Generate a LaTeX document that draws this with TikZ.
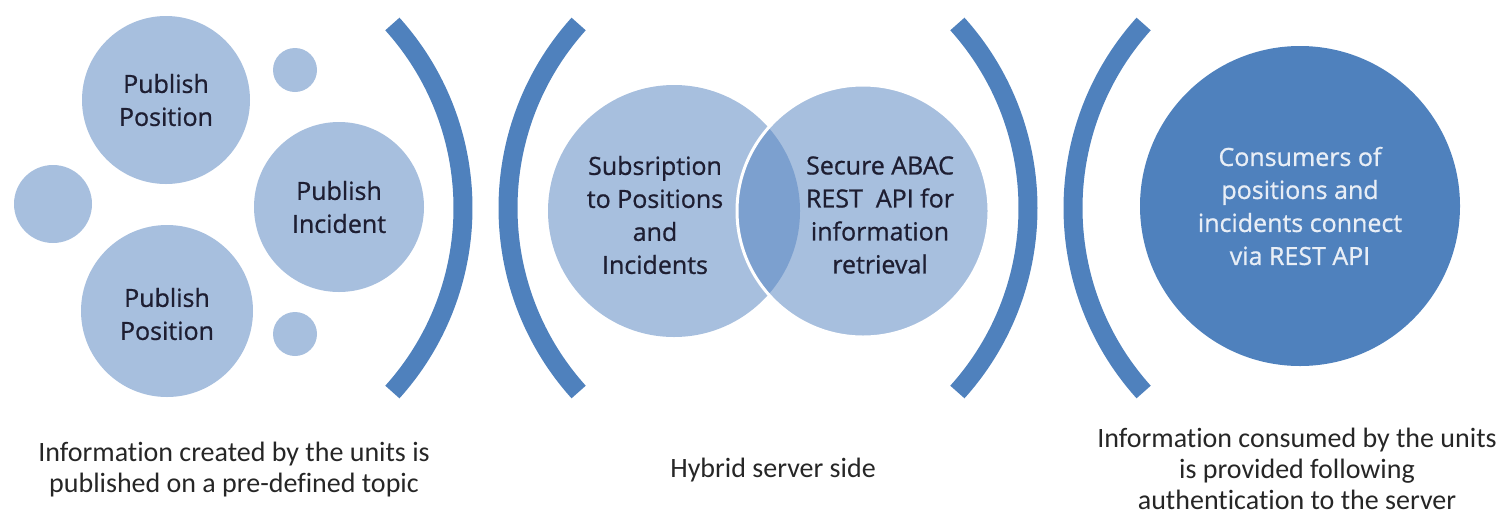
\documentclass[tikz,border=0pt]{standalone}
\usepackage{fontspec}
\setmainfont[Ligatures=NoCommon]{Carlito}
\newfontfamily\circfont[FakeBold=0.8]{Open Sans}
\definecolor{lightblue}{RGB}{167,191,222}
\definecolor{lensblue}{RGB}{124,160,207}
\definecolor{darkblue}{RGB}{79,129,189}
\definecolor{circtext}{RGB}{30,30,50}
\definecolor{constext}{RGB}{232,238,246}
\begin{document}
\begin{tikzpicture}[x=1pt,y=-1pt,
  bubble/.style={circle,fill=lightblue,draw=none,inner sep=0pt,minimum size=#1},
  ctext/.style={font=\circfont\fontsize{25}{33}\selectfont,text=circtext,align=center},
  bracket/.style={draw=darkblue,line width=19pt,line cap=butt},
  caption/.style={font=\fontsize{28}{31}\selectfont,text=black!85,align=center}]
\useasboundingbox (0,0) rectangle (1509,515);
% left group
\node[bubble=168pt] (pp1) at (166,100) {};
\node[bubble=78pt] (s1) at (53,204) {};
\node[bubble=170pt] (pi) at (339,207) {};
\node[bubble=172pt] (pp2) at (167,311) {};
\node[bubble=44pt] (s2) at (295,70) {};
\node[bubble=44pt] (s3) at (295,334) {};
\node[ctext] at (pp1) {Publish\\Position};
\node[ctext] at (pi) {Publish\\Incident};
\node[ctext] at ([yshift=-3pt]pp2.center) {Publish\\Position};
% brackets
\coordinate (c1) at (188,208);
\coordinate (c2) at (783,208);
\coordinate (c3) at (753,208);
\coordinate (c4) at (1348,208);
\draw[bracket] ([shift={(-42:275)}]c1) arc[start angle=-42,end angle=42,radius=275];
\draw[bracket] ([shift={(138:275)}]c2) arc[start angle=138,end angle=222,radius=275];
\draw[bracket] ([shift={(-42:275)}]c3) arc[start angle=-42,end angle=42,radius=275];
\draw[bracket] ([shift={(138:275)}]c4) arc[start angle=138,end angle=222,radius=275];
% venn
\node[bubble=252pt] (vl) at (674,211) {};
\node[bubble=252pt] (vr) at (863,211) {};
\begin{scope}
  \clip (674,211) circle[radius=126];
  \fill[lensblue] (863,211) circle[radius=126];
\end{scope}
\draw[white,line width=3pt] (863,211) circle[radius=126];
\node[ctext] at (655,215) {Subsription\\to Positions\\and\\Incidents};
\node[ctext] at (880,215) {Secure ABAC\\REST\ \ API for\\information\\retrieval};
% right
\node[circle,fill=darkblue,inner sep=0pt,minimum size=320pt] (cons) at (1300,206) {};
\node[ctext,text=constext] at (cons) {Consumers of\\positions and\\incidents connect\\via REST API};
% captions
\node[caption] (cap1) at (234,470) {Information created by the units is\\published on a pre-defined topic};
\node[caption] (cap2) at (773,470) {Hybrid server side};
\node[caption] (cap3) at (1297,469) {Information consumed by the units\\is provided following\\authentication to the server};
\end{tikzpicture}
\end{document}
